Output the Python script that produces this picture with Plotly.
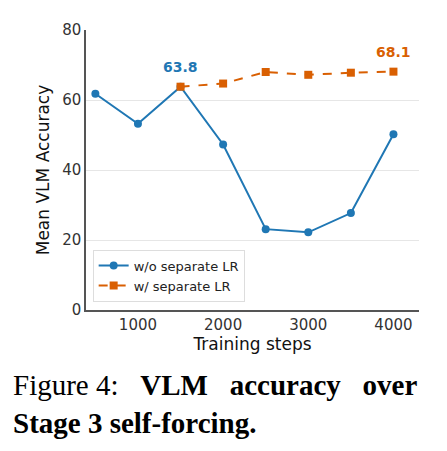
import plotly.graph_objects as go

steps_a = [500, 1000, 1500, 2000, 2500, 3000, 3500, 4000]
acc_a = [61.8, 53.2, 63.8, 47.3, 23.1, 22.2, 27.7, 50.2]
steps_b = [1500, 2000, 2500, 3000, 3500, 4000]
acc_b = [63.8, 64.7, 68.0, 67.2, 67.8, 68.1]

blue = "#1f77b4"
orange = "#d95f02"

fig = go.Figure()
fig.add_trace(go.Scatter(x=steps_a, y=acc_a, mode="lines+markers", name="w/o separate LR",
                         line=dict(color=blue, width=2), marker=dict(size=8, symbol="circle")))
fig.add_trace(go.Scatter(x=steps_b, y=acc_b, mode="lines+markers", name="w/ separate LR",
                         line=dict(color=orange, width=2, dash="dash"), marker=dict(size=8, symbol="square")))

fig.add_annotation(x=1500, y=63.8, text="<b>63.8</b>", showarrow=False, yshift=20,
                   font=dict(color=blue, size=14))
fig.add_annotation(x=4000, y=68.1, text="<b>68.1</b>", showarrow=False, yshift=20,
                   font=dict(color=orange, size=14))

# caption
fig.add_annotation(xref="paper", yref="paper", x=-0.225, y=-0.205, xanchor="left", yanchor="top",
                   align="left", showarrow=False,
                   text="Figure 4:   <b>VLM   accuracy   over</b><br><b>Stage 3 self-forcing.</b>",
                   font=dict(family="Liberation Serif", size=29, color="black"))

fig.update_layout(
    width=447, height=451, margin=dict(l=78, r=36, t=22, b=149),
    plot_bgcolor="white", paper_bgcolor="white",
    font=dict(family="DejaVu Sans", size=15, color="#333"),
    showlegend=True,
    legend=dict(x=0.02, y=0.03, xanchor="left", yanchor="bottom", bordercolor="#ddd", borderwidth=1,
                bgcolor="white", font=dict(size=13, color="#222")),
)
fig.update_xaxes(range=[390, 4300], tickvals=[1000, 2000, 3000, 4000], showgrid=False,
                 showline=True, linecolor="#555", linewidth=1.5, ticks="",
                 title=dict(text="Training steps", font=dict(size=17, color="#111"), standoff=2))
fig.update_yaxes(range=[0, 80], tickvals=[0, 20, 40, 60, 80], showgrid=True, gridcolor="#e6e6e6",
                 showline=True, linecolor="#555", linewidth=1.5, ticks="", zeroline=False,
                 title=dict(text="Mean VLM Accuracy", font=dict(size=17, color="#111"), standoff=8))

fig.write_html("out.html")
